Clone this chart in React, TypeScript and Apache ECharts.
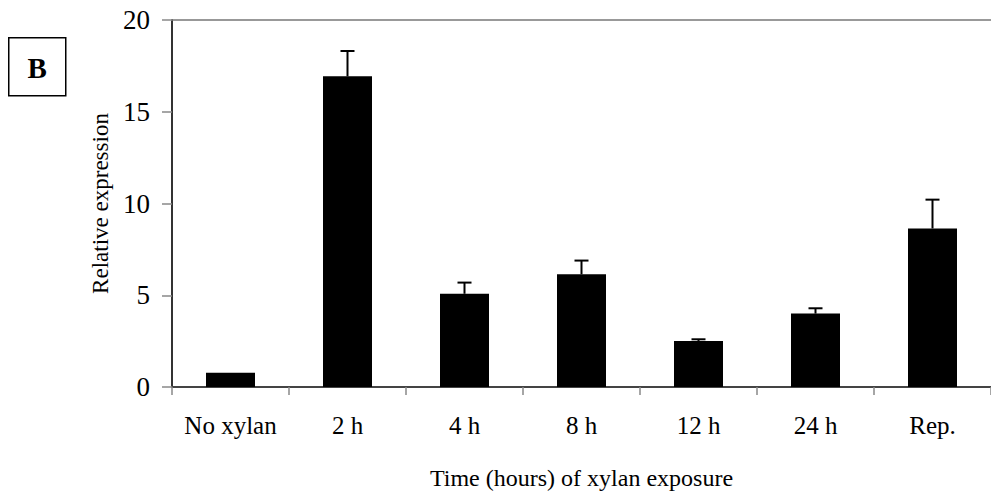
import React, { useEffect, useRef } from "react";
import * as echarts from "echarts";

// Relative expression over time of xylan exposure (mean ± SD)
const categories = ["No xylan", "2 h", "4 h", "8 h", "12 h", "24 h", "Rep."];
const means = [0.78, 16.93, 5.08, 6.14, 2.51, 4.0, 8.64];
const errors = [0, 1.38, 0.61, 0.75, 0.09, 0.29, 1.57];
const yTicks = { min: 0, max: 20, interval: 5 };

const SERIF = "'Liberation Serif', 'Times New Roman', serif";

export default function App() {
  const ref = useRef<HTMLDivElement>(null);

  useEffect(() => {
    if (!ref.current) return;
    const chart = echarts.init(ref.current, undefined, { renderer: "svg" });

    const errorData = means.map((m, i) => [i, m, m + errors[i]]);

    chart.setOption({
      animation: false,
      backgroundColor: "#fff",
      grid: { left: 172, right: -6, top: 20, bottom: 103, containLabel: false },
      xAxis: [
        {
          type: "category",
          data: categories,
          position: "bottom",
          axisLine: { lineStyle: { color: "#444", width: 2 } },
          axisTick: { show: true, length: 8, lineStyle: { color: "#888", width: 1.5 } },
          axisLabel: { interval: 0, fontFamily: SERIF, fontSize: 25, color: "#000", margin: 26 },
          name: "Time (hours) of xylan exposure",
          nameLocation: "middle",
          nameGap: 79,
          nameTextStyle: { fontFamily: SERIF, fontSize: 24, color: "#000" },
        },
        {
          type: "category",
          data: categories,
          position: "top",
          axisLine: { lineStyle: { color: "#777", width: 1.5 } },
          axisTick: { show: false },
          axisLabel: { show: false },
        },
      ],
      yAxis: {
        type: "value",
        min: yTicks.min,
        max: yTicks.max,
        interval: yTicks.interval,
        axisLine: { show: true, lineStyle: { color: "#333", width: 2 } },
        axisTick: { show: true, length: 10, lineStyle: { color: "#888", width: 1.5 } },
        splitLine: { show: false },
        axisLabel: { fontFamily: SERIF, fontSize: 27, color: "#000", margin: 22 },
        name: "Relative expression",
        nameLocation: "middle",
        nameRotate: 90,
        nameGap: 60,
        nameTextStyle: { fontFamily: SERIF, fontSize: 23, color: "#000" },
      },
      series: [
        {
          type: "bar",
          xAxisIndex: 0,
          data: means,
          barWidth: 49,
          itemStyle: { color: "#000" },
          z: 2,
        },
        {
          type: "custom",
          xAxisIndex: 0,
          data: errorData,
          z: 3,
          renderItem: (_params: any, api: any) => {
            const idx = api.value(0);
            const low = api.coord([idx, api.value(1)]);
            const high = api.coord([idx, api.value(2)]);
            if (api.value(2) <= api.value(1)) return { type: "group", children: [] };
            const cap = 7;
            const style = { stroke: "#000", lineWidth: 2 };
            return {
              type: "group",
              children: [
                { type: "line", shape: { x1: low[0], y1: low[1], x2: high[0], y2: high[1] }, style },
                { type: "line", shape: { x1: high[0] - cap, y1: high[1], x2: high[0] + cap, y2: high[1] }, style },
              ],
            };
          },
        },
      ],
      graphic: [
        {
          type: "group",
          left: 8,
          top: 37,
          children: [
            {
              type: "rect",
              shape: { x: 0, y: 0, width: 57, height: 58 },
              style: { fill: "#fff", stroke: "#000", lineWidth: 1.5 },
            },
            {
              type: "text",
              x: 28.5,
              y: 30,
              style: {
                text: "B",
                fontFamily: SERIF,
                fontWeight: "bold",
                fontSize: 29,
                fill: "#000",
                align: "center",
                verticalAlign: "middle",
              },
            },
          ],
        },
      ],
    });

    return () => chart.dispose();
  }, []);

  return (
    <div
      ref={ref}
      style={{ position: "fixed", left: 0, top: 0, width: 991, height: 495, background: "#fff" }}
    />
  );
}
